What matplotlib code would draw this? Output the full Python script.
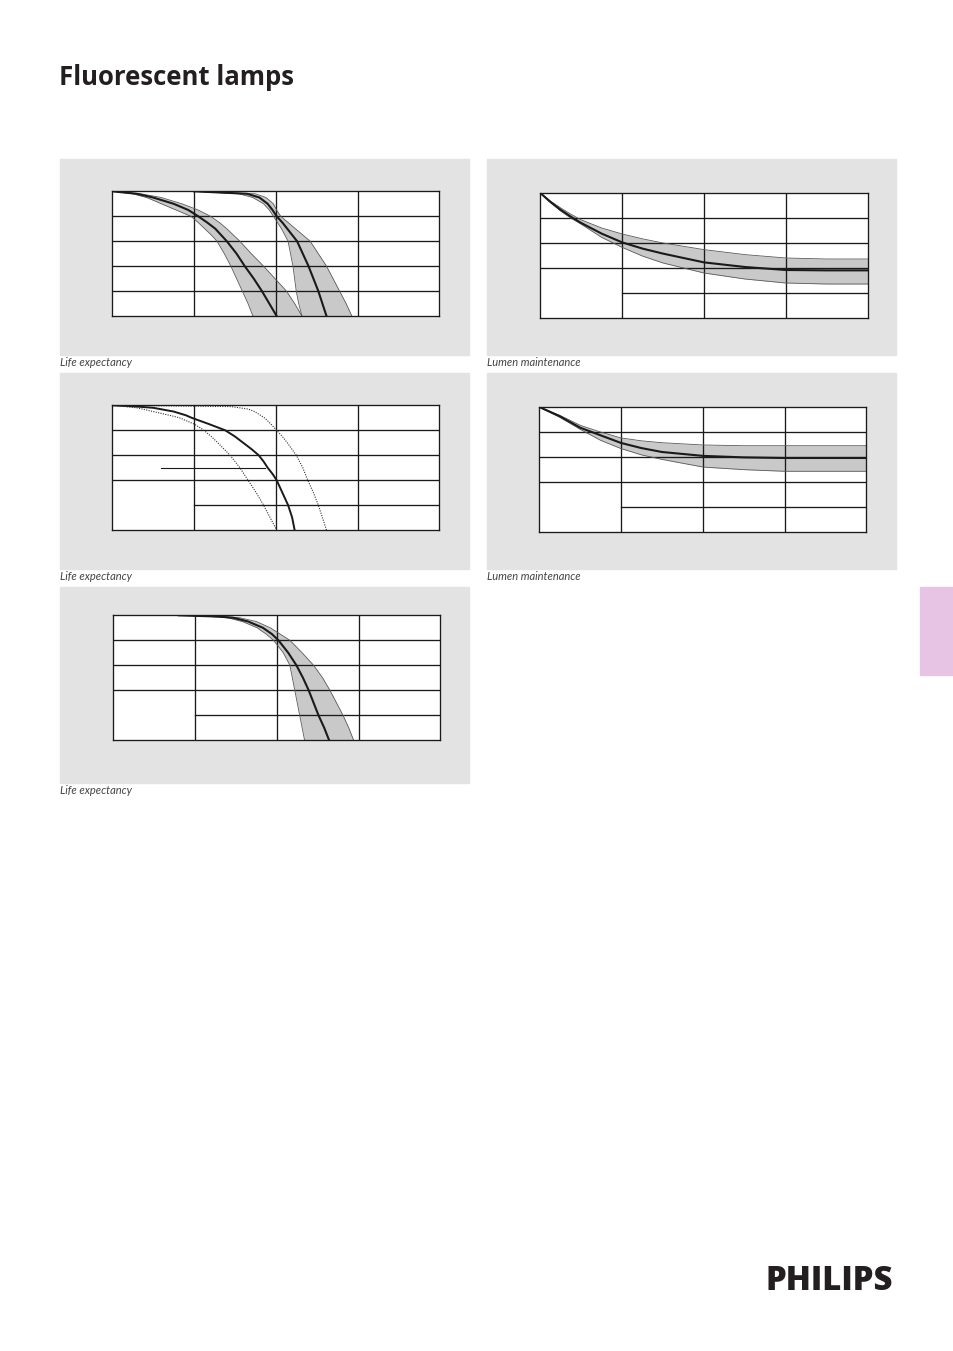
import matplotlib
matplotlib.use("Agg")
import matplotlib.pyplot as plt
from matplotlib.patches import Rectangle

# page size in pixels
W, H = 954, 1351

# --- panel 1: life expectancy, two bands (x = column units, y = % surviving)
p1a_y = [100, 98, 95, 92, 90, 85, 80, 75, 70, 65, 60, 50, 40, 30, 20, 10, 0]
p1a_left = [0, 0.25, 0.42, 0.53, 0.60, 0.78, 0.96, 1.05, 1.13, 1.21, 1.28, 1.37, 1.45, 1.52, 1.59, 1.66, 1.72]
p1a_mid = [0, 0.30, 0.50, 0.65, 0.75, 0.93, 1.05, 1.16, 1.26, 1.33, 1.40, 1.52, 1.62, 1.73, 1.83, 1.92, 2.01]
p1a_right = [0, 0.35, 0.60, 0.75, 0.85, 1.05, 1.20, 1.31, 1.40, 1.48, 1.56, 1.70, 1.85, 1.99, 2.13, 2.23, 2.32]

p1b_y = [100, 98, 95, 90, 85, 80, 75, 70, 65, 60, 50, 40, 30, 20, 10, 0]
p1b_left = [1.0, 1.55, 1.72, 1.85, 1.92, 1.97, 2.02, 2.07, 2.11, 2.15, 2.18, 2.21, 2.23, 2.25, 2.28, 2.32]
p1b_mid = [1.0, 1.65, 1.80, 1.90, 1.96, 2.01, 2.08, 2.14, 2.20, 2.26, 2.33, 2.40, 2.46, 2.52, 2.57, 2.62]
p1b_right = [1.0, 1.75, 1.88, 1.97, 2.01, 2.06, 2.15, 2.24, 2.33, 2.42, 2.52, 2.62, 2.70, 2.78, 2.86, 2.93]

# --- panel 2: lumen maintenance band
p2_x = [0, 0.125, 0.25, 0.375, 0.5, 0.75, 1.0, 1.25, 1.5, 2.0, 2.5, 3.0, 3.5, 4.0]
p2_upper = [100, 93.5, 88.0, 83.0, 78.5, 72.0, 67.2, 63.3, 60.0, 54.7, 50.7, 48.0, 47.2, 47.2]
p2_mid = [100, 92.8, 86.5, 81.0, 76.0, 67.5, 60.5, 55.5, 51.5, 44.5, 40.8, 38.4, 38.1, 38.1]
p2_lower = [100, 92.3, 85.5, 79.8, 75.0, 64.5, 56.5, 49.5, 44.0, 36.0, 31.2, 28.0, 27.2, 27.2]

# --- panel 3: life expectancy, solid curve with dotted limits
p3_solid_y = [100, 99, 98, 95, 92, 90, 85, 80, 75, 70, 65, 60, 55, 50, 45, 40, 30, 20, 10, 0]
p3_solid_x = [0, 0.30, 0.50, 0.75, 0.90, 0.97, 1.18, 1.38, 1.50, 1.60, 1.70, 1.79, 1.85, 1.90, 1.96, 2.01, 2.08, 2.15, 2.20, 2.23]
p3_dot1_y = [100, 98, 95, 92, 90, 85, 80, 75, 70, 60, 50, 40, 30, 20, 10, 0]
p3_dot1_x = [0, 0.30, 0.50, 0.70, 0.82, 1.00, 1.12, 1.21, 1.29, 1.44, 1.56, 1.66, 1.76, 1.85, 1.93, 2.01]
p3_dot2_y = [100, 99, 97, 95, 90, 85, 80, 75, 70, 60, 50, 40, 30, 20, 10, 0]
p3_dot2_x = [0, 1.45, 1.66, 1.74, 1.86, 1.94, 2.01, 2.08, 2.14, 2.25, 2.33, 2.39, 2.46, 2.52, 2.57, 2.62]
p3_marker_x = [0.595, 1.87]
p3_marker_y = [50, 50]

# --- panel 4: lumen maintenance band
p4_x = [0, 0.25, 0.5, 0.75, 1.0, 1.25, 1.5, 2.0, 2.5, 3.0, 3.5, 4.0]
p4_upper = [100, 93.4, 85.4, 80.0, 75.3, 73.0, 71.5, 69.7, 69.1, 69.1, 69.1, 69.1]
p4_mid = [100, 92.6, 83.5, 77.4, 71.3, 67.2, 64.1, 61.0, 59.8, 59.3, 59.3, 59.3]
p4_lower = [100, 91.8, 82.2, 73.4, 66.8, 61.8, 58.2, 52.1, 50.0, 48.7, 48.7, 48.7]

# --- panel 5: life expectancy band
p5_y = [100, 99, 98, 95, 90, 85, 80, 70, 60, 50, 40, 30, 20, 10, 0]
p5_left = [0.8, 1.20, 1.40, 1.58, 1.76, 1.87, 1.96, 2.08, 2.16, 2.19, 2.22, 2.25, 2.28, 2.31, 2.34]
p5_mid = [0.8, 1.28, 1.47, 1.65, 1.83, 1.94, 2.02, 2.14, 2.24, 2.32, 2.39, 2.45, 2.51, 2.58, 2.64]
p5_right = [0.8, 1.35, 1.55, 1.75, 1.92, 2.04, 2.16, 2.31, 2.45, 2.56, 2.65, 2.73, 2.81, 2.88, 2.94]

LIFE = "Life expectancy"
LUMEN = "Lumen maintenance"

PANEL_BG = "#e3e3e3"
BAND = "#c9c9c9"
EDGE = "#5a5a5a"
INK = "#1a1a1a"


def frac(x, y, w, h):
    return [x / W, 1 - (y + h) / H, w / W, h / H]


def panel(fig, x, y, w, h):
    fig.add_artist(Rectangle((x / W, 1 - (y + h) / H), w / W, h / H,
                             transform=fig.transFigure, color=PANEL_BG, zorder=0))


def chart(fig, box, short_bottom):
    ax = fig.add_axes(frac(*box))
    ax.set_xlim(0, 4)
    ax.set_ylim(0, 100)
    ax.set_xticks([])
    ax.set_yticks([])
    ax.set_facecolor("white")
    for s in ax.spines.values():
        s.set_linewidth(0.95)
        s.set_color(INK)
        s.set_zorder(4)
    for gx in [1, 2, 3]:
        ax.plot([gx, gx], [0, 100], color=INK, lw=0.95, zorder=2)
    for gy in [80, 60, 40, 20]:
        x0 = 1 if (short_bottom and gy == 20) else 0
        ax.plot([x0, 4], [gy, gy], color=INK, lw=0.95, zorder=2)
    return ax


def band_y(ax, y, left, mid, right):
    ax.fill_betweenx(y, left, right, color=BAND, lw=0, zorder=1)
    ax.plot(left, y, color=EDGE, lw=0.6, zorder=3)
    ax.plot(right, y, color=EDGE, lw=0.6, zorder=3)
    ax.plot(mid, y, color=INK, lw=1.5, zorder=3)


def band_x(ax, x, upper, mid, lower):
    ax.fill_between(x, lower, upper, color=BAND, lw=0, zorder=1)
    ax.plot(x, upper, color=EDGE, lw=0.6, zorder=3)
    ax.plot(x, lower, color=EDGE, lw=0.6, zorder=3)
    ax.plot(x, mid, color=INK, lw=1.5, zorder=3)


fig = plt.figure(figsize=(W / 100, H / 100), dpi=100)
fig.patch.set_facecolor("white")

fig.text(59 / W, 1 - 85 / H, "Fluorescent lamps", fontsize=18.5, fontweight="bold",
         family=["Open Sans", "DejaVu Sans"], color="#231f20", va="baseline")

# gray panels
for px, py in [(60, 159), (487, 159), (60, 373), (487, 373), (60, 587)]:
    panel(fig, px, py, 409, 196)

# captions
cap_style = dict(fontsize=8, style="italic", family=["Lato", "DejaVu Sans"],
                 color="#444444", va="center")
fig.text(60 / W, 1 - 363 / H, LIFE, **cap_style)
fig.text(487 / W, 1 - 363 / H, LUMEN, **cap_style)
fig.text(60 / W, 1 - 577 / H, LIFE, **cap_style)
fig.text(487 / W, 1 - 577 / H, LUMEN, **cap_style)
fig.text(60 / W, 1 - 791 / H, LIFE, **cap_style)

# panel 1
ax1 = chart(fig, (112.3, 191.3, 327, 124.7), False)
band_y(ax1, p1a_y, p1a_left, p1a_mid, p1a_right)
band_y(ax1, p1b_y, p1b_left, p1b_mid, p1b_right)

# panel 2
ax2 = chart(fig, (540.3, 193, 327.4, 125), True)
band_x(ax2, p2_x, p2_upper, p2_mid, p2_lower)

# panel 3
ax3 = chart(fig, (112.3, 405.3, 327, 124.7), True)
ax3.plot(p3_solid_x, p3_solid_y, color=INK, lw=1.4, zorder=3)
ax3.plot(p3_dot1_x, p3_dot1_y, color="#333333", lw=0.8, ls=(0, (1, 1.2)), zorder=3)
ax3.plot(p3_dot2_x, p3_dot2_y, color="#333333", lw=0.8, ls=(0, (1, 1.2)), zorder=3)
ax3.plot(p3_marker_x, p3_marker_y, color=INK, lw=0.8, zorder=3)

# panel 4
ax4 = chart(fig, (539.3, 407, 327, 125.3), True)
band_x(ax4, p4_x, p4_upper, p4_mid, p4_lower)

# panel 5
ax5 = chart(fig, (113.3, 615.3, 327, 125), True)
band_y(ax5, p5_y, p5_left, p5_mid, p5_right)

# side tab
fig.add_artist(Rectangle((920 / W, 1 - 675 / H), 34 / W, 88 / H,
                         transform=fig.transFigure, color="#e8c4e4", zorder=0))

# logo
fig.text(766 / W, 1 - 1290 / H, "PHILIPS", fontsize=23.7, fontweight="heavy",
         family=["Open Sans", "DejaVu Sans"], color="#231f20", va="baseline")

fig.savefig("out.png", dpi=100)
